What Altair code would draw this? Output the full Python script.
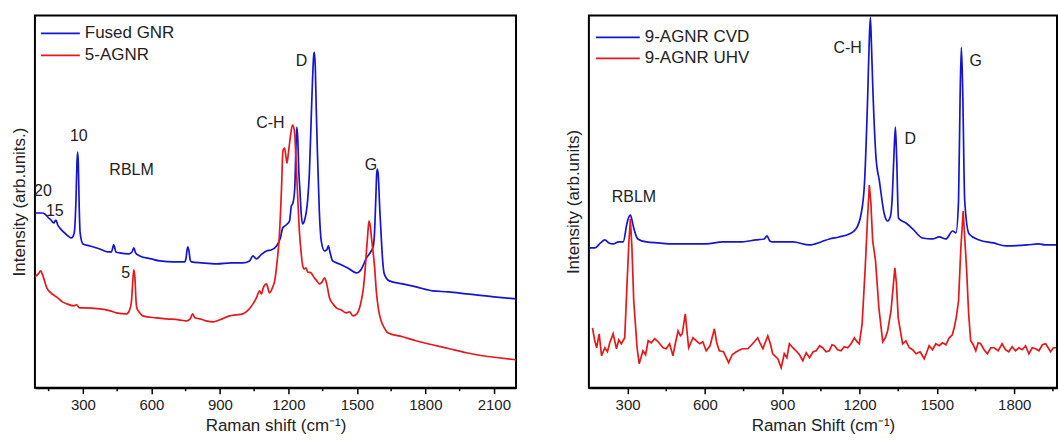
import altair as alt
import pandas as pd

# ---------------- Left panel data (Fused GNR / 5-AGNR) ----------------
fused_x = [90, 120, 134, 150, 160, 172, 182, 190, 199, 215, 235, 250, 262, 270, 274, 277, 280, 284, 288, 300,
           330, 374, 410, 425, 435, 445, 462, 500, 515, 523, 531, 549, 600, 637, 700, 746, 752, 757, 760, 764,
           770, 776, 820, 886, 950, 1000, 1030, 1045, 1060, 1080, 1104, 1125, 1148, 1165, 1175, 1190, 1205, 1213,
           1220, 1228, 1233, 1237, 1241, 1246, 1250, 1256, 1262, 1270, 1284, 1292, 1300, 1306, 1311, 1314, 1318,
           1322, 1327, 1335, 1344, 1358, 1368, 1375, 1382, 1394, 1424, 1460, 1498, 1520, 1542, 1563, 1572, 1577,
           1583, 1587, 1590, 1594, 1600, 1606, 1613, 1620, 1642, 1700, 1760, 1832, 1900, 1979, 2100, 2197]
fused_y = [175, 175, 174, 170, 168, 165, 168, 163, 160, 156, 152, 150, 155, 190, 225, 236, 225, 180, 155, 144,
           142, 139, 136, 136, 143, 136, 135, 134, 136, 140, 135, 132, 129, 127, 126, 126, 130, 139, 141, 138,
           128, 126, 125, 124, 125, 125, 127, 132, 129, 133, 137, 138, 142, 150, 160, 163, 167, 182,
           185, 200, 240, 261, 250, 215, 200, 175, 164, 167, 187, 215, 270, 310, 333, 336, 320,
           280, 237, 180, 147, 137, 138, 142, 136, 127, 124, 120, 115, 119, 130, 137, 142, 154,
           190, 215, 219, 212, 180, 154, 127, 114, 107, 104, 101, 97, 96, 94, 91, 89]

agnr5_x = [90, 105, 115, 125, 142, 160, 177, 190, 210, 230, 260, 273, 285, 300, 374, 420, 447, 491, 505, 513,
           518, 523, 528, 532, 536, 549, 562, 620, 667, 720, 754, 770, 781, 790, 812, 840, 870, 900, 943, 970,
           1000, 1025, 1045, 1060, 1074, 1082, 1090, 1104, 1110, 1117, 1130, 1140, 1150, 1161, 1170, 1176, 1183,
           1189, 1194, 1200, 1208, 1218, 1226, 1235, 1242, 1249, 1256, 1263, 1270, 1277, 1285, 1300, 1308, 1314,
           1325, 1336, 1348, 1358, 1366, 1380, 1395, 1410, 1430, 1454, 1468, 1483, 1500, 1512, 1520, 1527, 1535,
           1542, 1548, 1553, 1558, 1565, 1570, 1578, 1585, 1595, 1606, 1620, 1635, 1700, 1760, 1830, 1905, 1980,
           2050, 2120, 2197]
agnr5_y = [111, 114, 117, 112, 100, 95, 92, 90, 86, 84, 82, 83, 80, 80, 79, 77, 75, 74, 78, 87,
           105, 118, 110, 90, 80, 75, 72, 70, 69, 68, 67, 69, 74, 70, 69, 67, 66, 68, 72, 73,
           74, 78, 84, 90, 97, 94, 100, 104, 100, 95, 100, 107, 125, 154, 200, 237, 240,
           232, 225, 235, 250, 263, 258, 220, 185, 154, 135, 122, 119, 120, 116, 115, 112, 110,
           107, 104, 106, 110, 106, 90, 84, 80, 78, 75, 76, 72, 74, 80, 88, 97, 115,
           137, 155, 167, 163, 148, 138, 120, 97, 78, 67, 60, 55, 51, 47, 43, 39, 35,
           32, 30, 28]

left_series = ["Fused GNR", "5-AGNR"]
left_ticks = [300, 600, 900, 1200, 1500, 1800, 2100]
left_minor = [150, 450, 750, 1050, 1350, 1650, 1950]
left_ann_x = [125, 177, 282, 513, 488, 1121, 1258, 1562]
left_ann_y = [197, 177, 252, 218, 115, 265, 327, 223]
left_ann_t = ["20", "15", "10", "RBLM", "5", "C-H", "D", "G"]

# ---------------- Right panel data (9-AGNR CVD / UHV) ----------------
cvd_x = [152, 173, 195, 212, 228, 244, 265, 283, 298, 305, 311, 317, 324, 340, 373, 420, 476, 540, 605, 670,
         734, 799, 830, 841, 852, 863, 900, 941, 1006, 1050, 1083, 1120, 1160, 1186, 1206, 1219, 1231, 1238,
         1242, 1246, 1251, 1264, 1277, 1296, 1309, 1320, 1326, 1333, 1339, 1344, 1351, 1365, 1380, 1406, 1444,
         1483, 1509, 1535, 1561, 1574, 1584, 1590, 1595, 1600, 1608, 1625, 1664, 1720, 1767, 1850, 1896, 1920,
         1963]
cvd_y = [140, 140, 145, 148, 145, 144, 146, 146, 165, 171, 173, 168, 160, 149, 146, 145, 144, 144, 144, 146,
         146, 148, 149, 152, 147, 146, 146, 146, 143, 146, 149, 151, 154, 159, 174, 204, 287, 350,
         371, 345, 304, 230, 207, 174, 167, 172, 187, 230, 261, 230, 170, 167, 165, 159, 150,
         149, 151, 149, 157, 155, 187, 290, 341, 300, 187, 154, 148, 145, 142, 143, 144, 143,
         143]

uhv_x = [164, 172, 180, 190, 199, 212, 222, 231, 244, 257, 266, 276, 289, 298, 305, 311, 317, 324, 337, 345,
         360, 370, 380, 392, 405, 415, 425, 438, 450, 463, 476, 486, 496, 505, 512, 518, 524, 530, 537, 554,
         567, 580, 592, 605, 620, 637, 646, 656, 672, 692, 706, 722, 745, 767, 785, 805, 815, 825, 844, 854,
         863, 883, 896, 908, 918, 928, 941, 954, 967, 980, 993, 1006, 1020, 1032, 1045, 1057, 1070, 1083, 1093,
         1103, 1115, 1128, 1141, 1154, 1167, 1180, 1190, 1199, 1210, 1222, 1231, 1238, 1244, 1251, 1262, 1275,
         1290, 1300, 1309, 1322, 1330, 1337, 1343, 1350, 1367, 1380, 1393, 1406, 1419, 1435, 1451, 1460, 1470,
         1483, 1496, 1509, 1522, 1535, 1548, 1560, 1567, 1575, 1584, 1593, 1602, 1608, 1615, 1623, 1631, 1641,
         1651, 1660, 1670, 1683, 1696, 1709, 1722, 1738, 1753, 1766, 1779, 1792, 1805, 1818, 1831, 1844, 1857,
         1870, 1883, 1896, 1909, 1922, 1941, 1952, 1963]
uhv_y = [60, 48, 40, 54, 32, 40, 36, 45, 54, 39, 48, 44, 50, 104, 145, 169, 140, 87, 40, 24,
         37, 33, 47, 45, 49, 47, 44, 40, 39, 44, 32, 45, 57, 52, 54, 64, 74, 58, 40, 50,
         47, 44, 46, 37, 42, 59, 45, 37, 36, 25, 33, 36, 39, 39, 44, 50, 44, 39, 52, 44,
         34, 29, 20, 34, 30, 44, 40, 37, 33, 27, 35, 30, 36, 37, 42, 40, 36, 37, 43,
         42, 38, 37, 41, 40, 44, 50, 46, 44, 64, 120, 170, 203, 185, 147, 127, 80,
         46, 50, 57, 77, 100, 120, 105, 70, 44, 47, 40, 38, 34, 36, 29, 35, 42,
         38, 44, 42, 45, 43, 50, 53, 60, 70, 87, 140, 177, 150, 120, 75, 47, 43,
         37, 45, 44, 38, 34, 40, 40, 37, 44, 38, 36, 41, 37, 40, 38, 42, 34,
         40, 39, 37, 43, 44, 36, 40, 40]

right_series = ["9-AGNR CVD", "9-AGNR UHV"]
right_ticks = [300, 600, 900, 1200, 1500, 1800]
right_minor = [450, 750, 1050, 1350, 1650, 1950]
right_ann_x = [325, 1154, 1397, 1651]
right_ann_y = [191, 340, 249, 327]
right_ann_t = ["RBLM", "C-H", "D", "G"]

BLUE = "#1414d2"
RED = "#e3191c"
FONT = "Liberation Sans"
H = 373


def panel(sx, sy, names, interps, domain, width, ticks, minor, xtitle, ytitle,
          ax, ay, at, leg_x0, leg_x1, leg_tx, leg_y0, leg_dy):
    xscale = alt.Scale(domain=domain, nice=False, zero=False)
    yscale = alt.Scale(domain=[0, H], nice=False, zero=False)
    xaxis = alt.Axis(values=ticks, title=xtitle, grid=False, tickSize=6,
                     labelPadding=4, titlePadding=5, format="d")
    yaxis = alt.Axis(title=ytitle, labels=False, ticks=False, domain=False,
                     grid=False, titlePadding=6)
    X = alt.X("x:Q", scale=xscale, axis=xaxis)
    Y = alt.Y("y:Q", scale=yscale, axis=yaxis)

    layers = []
    for name, xs, ys, col, ip in zip(names, sx, sy, [BLUE, RED], interps):
        df = pd.DataFrame({"x": xs, "y": ys, "series": name})
        layers.append(alt.Chart(df).mark_line(strokeWidth=1.7, clip=True, color=col,
                                              interpolate=ip).encode(x=X, y=Y))
    minor_ticks = alt.Chart(pd.DataFrame({"x": minor})).mark_rule(
        color="black", strokeWidth=1.5).encode(
        x=X, y=alt.value(H), y2=alt.value(H + 3.5),
    )
    ann = alt.Chart(pd.DataFrame({"x": ax, "y": ay, "t": at})).mark_text(
        font=FONT, fontSize=16, color="#222", baseline="middle", align="center").encode(
        x=X, y=Y, text="t:N",
    )
    layers += [minor_ticks, ann]
    for i, (name, col) in enumerate(zip(names, [BLUE, RED])):
        yy = leg_y0 + i * leg_dy
        d = pd.DataFrame({"series": [name]})
        layers.append(alt.Chart(d).mark_rule(color=col, strokeWidth=1.8).encode(
            x=alt.value(leg_x0), x2=alt.value(leg_x1), y=alt.value(yy)))
        layers.append(alt.Chart(d).mark_text(font=FONT, fontSize=17, color="#222",
                                             align="left", baseline="middle").encode(
            x=alt.value(leg_tx), y=alt.value(yy), text="series:N"))
    return alt.layer(*layers).properties(width=width, height=H)


left = panel([fused_x, agnr5_x], [fused_y, agnr5_y], left_series, ["monotone", "monotone"],
             [90, 2197], 482, left_ticks, left_minor, "Raman shift (cm⁻¹)", "Intensity (arb.units.)",
             left_ann_x, left_ann_y, left_ann_t, 6, 45, 50, 18, 22)
right = panel([cvd_x, uhv_x], [cvd_y, uhv_y], right_series, ["monotone", "linear"],
              [150, 1966], 469, right_ticks, right_minor, "Raman Shift (cm⁻¹)", "Intensity (arb.units)",
              right_ann_x, right_ann_y, right_ann_t, 7, 51, 56, 22, 21)

chart = alt.hconcat(left, right, spacing=47).properties(
    padding={"left": 10, "top": 14, "right": 0, "bottom": 0}
).configure(font=FONT, background="white").configure_view(
    stroke="black", strokeWidth=2
).configure_axis(
    domainColor="black", domainWidth=2, tickColor="black", tickWidth=1.5,
    labelFont=FONT, titleFont=FONT, labelFontSize=15, titleFontSize=17,
    titleFontWeight="normal", labelColor="#222", titleColor="#222",
)

chart.save("out.html", embed_options={"renderer": "svg", "actions": False})
